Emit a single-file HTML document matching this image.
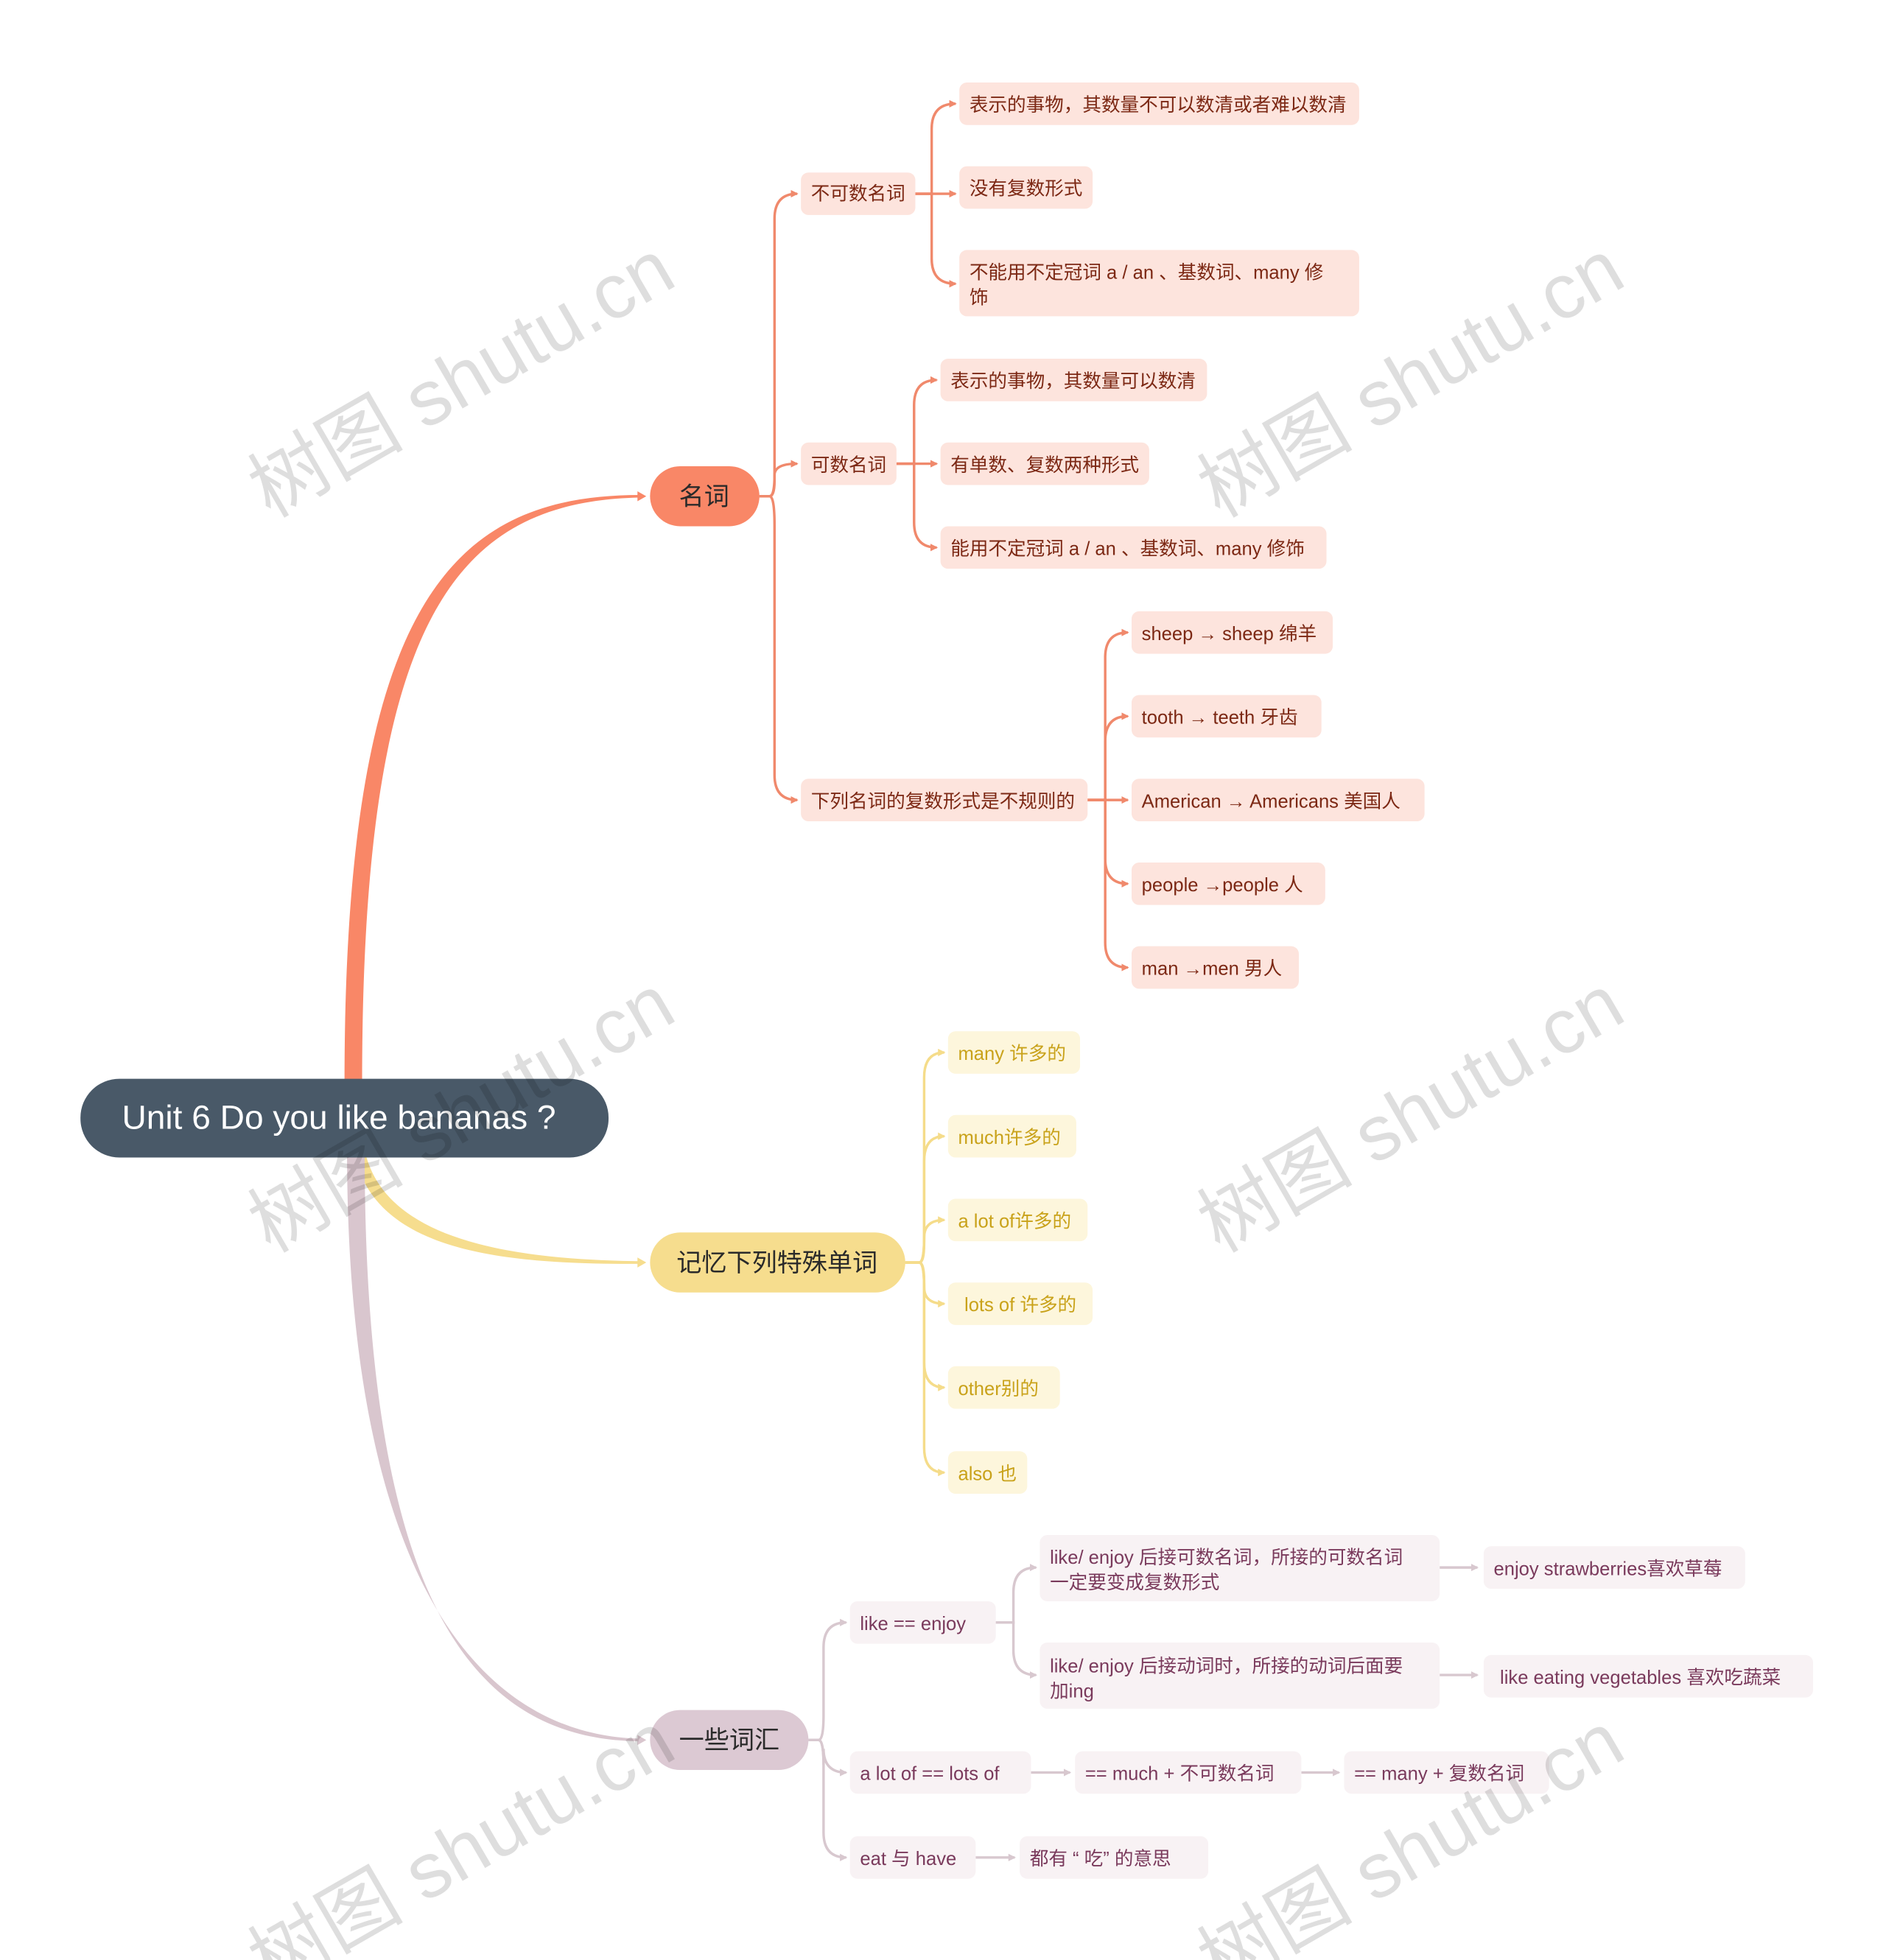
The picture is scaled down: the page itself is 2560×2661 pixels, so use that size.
<!DOCTYPE html>
<html><head><meta charset="utf-8"><style>
html,body{margin:0;padding:0;background:#fff;}
svg{display:block;}
text{font-family:"Liberation Sans","Noto Sans CJK SC",sans-serif;}
</style></head><body>
<svg width="2560" height="2661" viewBox="0 0 1500 1568" preserveAspectRatio="none" xmlns="http://www.w3.org/2000/svg">
<defs>
<marker id="ms" markerWidth="6" markerHeight="6" refX="5" refY="3" orient="auto" markerUnits="userSpaceOnUse"><path d="M0,0 L6,3 L0,6 z" fill="#f0896c"/></marker>
<marker id="my" markerWidth="6" markerHeight="6" refX="5" refY="3" orient="auto" markerUnits="userSpaceOnUse"><path d="M0,0 L6,3 L0,6 z" fill="#f5dc8a"/></marker>
<marker id="mp" markerWidth="6" markerHeight="6" refX="5" refY="3" orient="auto" markerUnits="userSpaceOnUse"><path d="M0,0 L6,3 L0,6 z" fill="#d8c8cf"/></marker>
</defs>

<!-- main branches -->
<path d="M274 866 C274 480 360 395 512 396 L512 398 C364 400 288 490 288 866 Z" fill="#f98767"/>
<path d="M290 920 C305 990 400 1008 512 1009 L512 1011 C395 1012 300 1000 282 925 Z" fill="#f6dd8e"/>
<path d="M276 920 C276 1260 380 1390 512 1391 L512 1393 C370 1394 290 1270 290 920 Z" fill="#d9c6ce"/>
<path d="M507 393 L514 397 L507 401 z" fill="#f98767"/>
<path d="M507 1006 L514 1010 L507 1014 z" fill="#f6dd8e"/>
<path d="M507 1388 L514 1392 L507 1396 z" fill="#d9c6ce"/>

<!-- root -->
<rect x="64" y="863" width="420" height="63" rx="31" fill="#495968"/>
<text x="97" y="903" font-size="27" fill="#fff">Unit 6 Do you like bananas ?</text>

<!-- level-1 -->
<rect x="517" y="373" width="87" height="48" rx="24" fill="#f98767"/>
<text x="560" y="404" font-size="20" fill="#2a2a2a" text-anchor="middle">名词</text>
<rect x="517" y="986" width="203" height="48" rx="24" fill="#f6dd8e"/>
<text x="618" y="1017" font-size="20" fill="#2a2a2a" text-anchor="middle">记忆下列特殊单词</text>
<rect x="517" y="1368" width="126" height="48" rx="24" fill="#dcc9d3"/>
<text x="580" y="1399" font-size="20" fill="#2a2a2a" text-anchor="middle">一些词汇</text>

<!-- 名词 connectors -->
<g fill="none" stroke="#f0896c" stroke-width="2" marker-end="url(#ms)">
<path d="M604 397 H612 Q616 397 616 380 V175 Q616 155 634 155"/>
<path d="M604 397 H612 Q616 397 616 385 V380 Q616 371 634 371"/>
<path d="M604 397 H612 Q616 397 616 420 V620 Q616 640 634 640"/>
<path d="M728 155 H741 V103 Q741 83 760 83"/>
<path d="M728 155 H760"/>
<path d="M728 155 H741 V207 Q741 227 760 227"/>
<path d="M713 371 H727 V324 Q727 304 745 304"/>
<path d="M713 371 H745"/>
<path d="M713 371 H727 V418 Q727 438 745 438"/>
<path d="M865 640 H879 V526 Q879 506 897 506"/>
<path d="M865 640 H879 V593 Q879 573 897 573"/>
<path d="M865 640 H897"/>
<path d="M865 640 H879 V687 Q879 707 897 707"/>
<path d="M865 640 H879 V754 Q879 774 897 774"/>
</g>
<g fill="#fde4dd">
<rect x="637" y="138" width="91" height="34" rx="6"/>
<rect x="637" y="354" width="76" height="34" rx="6"/>
<rect x="637" y="623" width="228" height="34" rx="6"/>
<rect x="763" y="66" width="318" height="34" rx="6"/>
<rect x="763" y="133" width="106" height="34" rx="6"/>
<rect x="763" y="200" width="318" height="53" rx="6"/>
<rect x="748" y="287" width="212" height="34" rx="6"/>
<rect x="748" y="354" width="166" height="34" rx="6"/>
<rect x="748" y="421" width="307" height="34" rx="6"/>
<rect x="900" y="489" width="160" height="34" rx="6"/>
<rect x="900" y="556" width="151" height="34" rx="6"/>
<rect x="900" y="623" width="233" height="34" rx="6"/>
<rect x="900" y="690" width="154" height="34" rx="6"/>
<rect x="900" y="757" width="133" height="34" rx="6"/>
</g>
<g font-size="15" fill="#7c2814">
<text x="645" y="160">不可数名词</text>
<text x="645" y="377">可数名词</text>
<text x="645" y="646">下列名词的复数形式是不规则的</text>
<text x="771" y="89">表示的事物，其数量不可以数清或者难以数清</text>
<text x="771" y="156">没有复数形式</text>
<text x="771" y="223">不能用不定冠词 a / an 、基数词、many 修</text>
<text x="771" y="243">饰</text>
<text x="756" y="310">表示的事物，其数量可以数清</text>
<text x="756" y="377">有单数、复数两种形式</text>
<text x="756" y="444">能用不定冠词 a / an 、基数词、many 修饰</text>
<text x="908" y="512">sheep → sheep 绵羊</text>
<text x="908" y="579">tooth → teeth 牙齿</text>
<text x="908" y="646">American → Americans 美国人</text>
<text x="908" y="713">people →people 人</text>
<text x="908" y="780">man →men 男人</text>
</g>

<!-- 记忆 connectors -->
<g fill="none" stroke="#f5dc8a" stroke-width="2" marker-end="url(#my)">
<path d="M720 1010 H731 Q735 1010 735 990 V862 Q735 842 751 842"/>
<path d="M720 1010 H731 Q735 1010 735 990 V929 Q735 909 751 909"/>
<path d="M720 1010 H731 Q735 1010 735 995 V990 Q735 976 751 976"/>
<path d="M720 1010 H731 Q735 1010 735 1025 V1030 Q735 1043 751 1043"/>
<path d="M720 1010 H731 Q735 1010 735 1030 V1090 Q735 1110 751 1110"/>
<path d="M720 1010 H731 Q735 1010 735 1030 V1158 Q735 1178 751 1178"/>
</g>
<g fill="#fdf6dc">
<rect x="754" y="825" width="105" height="34" rx="6"/>
<rect x="754" y="892" width="102" height="34" rx="6"/>
<rect x="754" y="959" width="111" height="34" rx="6"/>
<rect x="754" y="1026" width="115" height="34" rx="6"/>
<rect x="754" y="1093" width="89" height="34" rx="6"/>
<rect x="754" y="1161" width="63" height="34" rx="6"/>
</g>
<g font-size="15" fill="#c9a21a">
<text x="762" y="848">many 许多的</text>
<text x="762" y="915">much许多的</text>
<text x="762" y="982">a lot of许多的</text>
<text x="767" y="1049">lots of 许多的</text>
<text x="762" y="1116">other别的</text>
<text x="762" y="1184">also 也</text>
</g>

<!-- 一些词汇 connectors -->
<g fill="none" stroke="#d8c8cf" stroke-width="2" marker-end="url(#mp)">
<path d="M643 1392 H651 Q655 1392 655 1372 V1318 Q655 1298 673 1298"/>
<path d="M643 1392 H651 Q655 1392 655 1412 V1399 Q655 1418 673 1418"/>
<path d="M643 1392 H651 Q655 1392 655 1412 V1466 Q655 1486 673 1486"/>
<path d="M792 1298 H806 V1274 Q806 1254 824 1254"/>
<path d="M792 1298 H806 V1320 Q806 1340 824 1340"/>
<path d="M1145 1254 H1175"/>
<path d="M1145 1340 H1175"/>
<path d="M820 1418 H851"/>
<path d="M1035 1418 H1065"/>
<path d="M776 1486 H807"/>
</g>
<g fill="#f8f2f4">
<rect x="676" y="1281" width="116" height="34" rx="6"/>
<rect x="827" y="1228" width="318" height="53" rx="6"/>
<rect x="827" y="1314" width="318" height="53" rx="6"/>
<rect x="1180" y="1237" width="208" height="34" rx="6"/>
<rect x="1180" y="1324" width="262" height="34" rx="6"/>
<rect x="676" y="1401" width="144" height="34" rx="6"/>
<rect x="855" y="1401" width="180" height="34" rx="6"/>
<rect x="1069" y="1401" width="163" height="34" rx="6"/>
<rect x="676" y="1469" width="100" height="34" rx="6"/>
<rect x="811" y="1469" width="150" height="34" rx="6"/>
</g>
<g font-size="15" fill="#7a3a5c">
<text x="684" y="1304">like == enjoy</text>
<text x="835" y="1251">like/ enjoy 后接可数名词，所接的可数名词</text>
<text x="835" y="1271">一定要变成复数形式</text>
<text x="835" y="1338">like/ enjoy 后接动词时，所接的动词后面要</text>
<text x="835" y="1358">加ing</text>
<text x="1188" y="1260">enjoy strawberries喜欢草莓</text>
<text x="1193" y="1347">like eating vegetables 喜欢吃蔬菜</text>
<text x="684" y="1424">a lot of == lots of</text>
<text x="863" y="1424">== much + 不可数名词</text>
<text x="1077" y="1424">== many + 复数名词</text>
<text x="684" y="1492">eat 与 have</text>
<text x="819" y="1492">都有 “ 吃” 的意思</text>
</g>

<!-- watermarks -->
<g font-family="Liberation Serif, 'Noto Serif CJK SC', serif" font-size="62" fill="#000" fill-opacity="0.13">
<text transform="translate(215,415) rotate(-30)">树图 shutu.cn</text>
<text transform="translate(970,415) rotate(-30)">树图 shutu.cn</text>
<text transform="translate(215,1003) rotate(-30)">树图 shutu.cn</text>
<text transform="translate(970,1003) rotate(-30)">树图 shutu.cn</text>
<text transform="translate(215,1593) rotate(-30)">树图 shutu.cn</text>
<text transform="translate(970,1593) rotate(-30)">树图 shutu.cn</text>
</g>
</svg>
</body></html>
